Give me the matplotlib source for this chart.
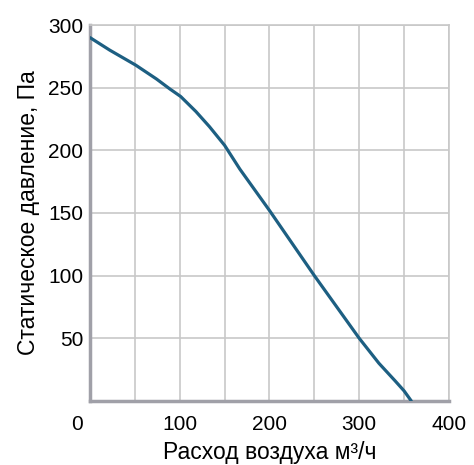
import numpy as np
import matplotlib.pyplot as plt
from matplotlib.transforms import ScaledTranslation

plt.rcParams['font.family'] = ['Liberation Sans', 'DejaVu Sans']

# кривая вентилятора: расход (м3/ч) и статическое давление (Па)
flow = [0, 22, 51, 74, 89, 101, 118, 133, 150, 167, 185, 200, 225, 250, 275, 300, 322, 340, 350, 358]
pressure = [290, 280, 268, 257, 249, 243, 231, 219, 204, 185, 167, 152, 126, 100, 75, 50, 30, 16, 8, 0]

x_ticks = [0, 100, 200, 300, 400]
y_ticks = [50, 100, 150, 200, 250, 300]

fig = plt.figure(figsize=(4.74, 4.65), dpi=100)
ax = fig.add_axes([0.19, 0.138, 0.757, 0.808])

ax.plot(flow, pressure, color='#1d5f82', linewidth=2.3, solid_capstyle='round',
        solid_joinstyle='round', zorder=3)

ax.set_xlim(0, 400)
ax.set_ylim(0, 300)
ax.set_xticks(x_ticks)
ax.set_yticks(y_ticks)
ax.set_xticks(np.arange(0, 401, 50), minor=True)
ax.grid(True, which='both', color='#c8c8c8', linewidth=1.2)
ax.tick_params(which='both', length=0)
ax.tick_params(axis='x', pad=10, labelsize=15)
ax.tick_params(axis='y', pad=5, labelsize=15)

# "0" сдвинут левее оси
lbl0 = ax.get_xticklabels()[0]
lbl0.set_transform(lbl0.get_transform() + ScaledTranslation(-13 / 100, 0, fig.dpi_scale_trans))

for side in ['top', 'right']:
    ax.spines[side].set_color('#c8c8c8')
    ax.spines[side].set_linewidth(1.2)
for side in ['left', 'bottom']:
    ax.spines[side].set_color('#a0a0a8')
    ax.spines[side].set_linewidth(2.5)

ax.set_xlabel('Расход воздуха м³/ч', fontsize=16.5, labelpad=5)
ax.set_ylabel('Статическое давление, Па', fontsize=16.5, labelpad=6)

fig.savefig('out.png', dpi=100)
